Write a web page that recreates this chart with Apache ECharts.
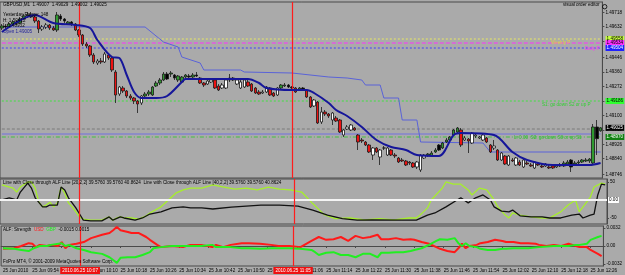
<!DOCTYPE html>
<html>
<head>
<meta charset="utf-8">
<script src="https://cdn.jsdelivr.net/npm/echarts@6/dist/echarts.min.js"></script>
<style>
html,body{margin:0;padding:0;background:#aaaaaa;}
#main{width:625px;height:275px;}
</style>
</head>
<body>
<div id="main"></div>
<script>
// GBPUSD M1, 25 Jun 2010 09:46 - 12:29
var startMinute = 9 * 60 + 46;
var barCount = 164;

var opens = [1.49624,1.49636,1.49630,1.49648,1.49660,1.49654,1.49678,1.49696,1.49702,1.49690,
1.49666,1.49618,1.49630,1.49642,1.49624,1.49612,1.49696,1.49678,1.49648,1.49660,
1.49648,1.49612,1.49582,1.49528,1.49516,1.49462,1.49414,1.49426,1.49420,1.49462,
1.49444,1.49360,1.49228,1.49264,1.49246,1.49216,1.49204,1.49186,1.49174,1.49216,
1.49228,1.49222,1.49276,1.49294,1.49312,1.49348,1.49348,1.49342,1.49312,1.49300,
1.49330,1.49336,1.49330,1.49342,1.49324,1.49294,1.49288,1.49300,1.49312,1.49276,
1.49264,1.49264,1.49312,1.49312,1.49288,1.49264,1.49270,1.49300,1.49288,1.49264,
1.49240,1.49234,1.49240,1.49264,1.49234,1.49222,1.49264,1.49276,1.49282,1.49270,
1.49264,1.49252,1.49264,1.49252,1.49210,1.49156,1.49180,1.49060,1.49120,1.49108,
1.49072,1.49084,1.49072,1.48982,1.49018,1.49012,1.49024,1.48982,1.48952,1.48940,
1.48922,1.48862,1.48904,1.48850,1.48904,1.48862,1.48892,1.48862,1.48844,1.48832,
1.48826,1.48820,1.48814,1.48790,1.48772,1.48844,1.48862,1.48856,1.48880,1.48922,
1.48904,1.48940,1.48952,1.48982,1.49000,1.49012,1.48952,1.48958,1.48934,1.48976,
1.48964,1.48952,1.48964,1.48922,1.48904,1.48892,1.48832,1.48856,1.48802,1.48832,
1.48802,1.48820,1.48790,1.48814,1.48802,1.48784,1.48808,1.48796,1.48796,1.48790,
1.48796,1.48790,1.48796,1.48796,1.48808,1.48832,1.48808,1.48814,1.48820,1.48826,
1.48826,1.48814,1.49030,1.49007];
var closes = [1.49636,1.49630,1.49648,1.49660,1.49654,1.49678,1.49696,1.49702,1.49690,1.49666,
1.49618,1.49630,1.49642,1.49624,1.49612,1.49702,1.49678,1.49666,1.49660,1.49648,
1.49612,1.49582,1.49528,1.49516,1.49462,1.49420,1.49426,1.49420,1.49468,1.49444,
1.49372,1.49222,1.49270,1.49246,1.49216,1.49204,1.49186,1.49168,1.49216,1.49228,
1.49240,1.49270,1.49294,1.49312,1.49348,1.49318,1.49354,1.49324,1.49336,1.49330,
1.49342,1.49330,1.49342,1.49336,1.49294,1.49282,1.49306,1.49312,1.49264,1.49252,
1.49282,1.49312,1.49324,1.49324,1.49312,1.49300,1.49312,1.49276,1.49246,1.49234,
1.49228,1.49240,1.49270,1.49222,1.49216,1.49264,1.49282,1.49282,1.49270,1.49264,
1.49240,1.49264,1.49252,1.49210,1.49150,1.49192,1.49054,1.49120,1.49108,1.49096,
1.49114,1.49066,1.49000,1.49012,1.49030,1.49042,1.49012,1.48940,1.48946,1.48922,
1.48880,1.48904,1.48880,1.48892,1.48904,1.48904,1.48862,1.48856,1.48820,1.48826,
1.48802,1.48814,1.48790,1.48820,1.48862,1.48862,1.48868,1.48874,1.48892,1.48892,
1.48934,1.48952,1.48970,1.49012,1.49024,1.48922,1.48964,1.48946,1.48994,1.48982,
1.48970,1.48982,1.48940,1.48880,1.48916,1.48832,1.48874,1.48808,1.48856,1.48826,
1.48844,1.48802,1.48832,1.48808,1.48796,1.48820,1.48802,1.48790,1.48808,1.48784,
1.48784,1.48796,1.48802,1.48814,1.48820,1.48790,1.48814,1.48820,1.48832,1.48832,
1.48838,1.49030,1.48960,1.49025];
var lows = [1.49612,1.49618,1.49624,1.49636,1.49642,1.49648,1.49672,1.49684,1.49684,1.49654,
1.49594,1.49606,1.49618,1.49612,1.49606,1.49600,1.49666,1.49654,1.49642,1.49636,
1.49606,1.49570,1.49516,1.49504,1.49450,1.49408,1.49402,1.49408,1.49414,1.49432,
1.49360,1.49174,1.49216,1.49234,1.49204,1.49192,1.49168,1.49114,1.49162,1.49210,
1.49216,1.49216,1.49270,1.49282,1.49306,1.49312,1.49330,1.49312,1.49300,1.49294,
1.49324,1.49324,1.49324,1.49330,1.49288,1.49270,1.49282,1.49294,1.49258,1.49246,
1.49258,1.49258,1.49300,1.49306,1.49282,1.49258,1.49264,1.49270,1.49240,1.49228,
1.49222,1.49228,1.49234,1.49216,1.49210,1.49216,1.49258,1.49270,1.49264,1.49258,
1.49234,1.49246,1.49246,1.49204,1.49144,1.49150,1.49048,1.49048,1.49096,1.49084,
1.49042,1.49060,1.48994,1.48970,1.49012,1.49006,1.49006,1.48892,1.48934,1.48916,
1.48874,1.48832,1.48874,1.48802,1.48892,1.48856,1.48856,1.48844,1.48814,1.48820,
1.48796,1.48802,1.48784,1.48778,1.48760,1.48838,1.48850,1.48850,1.48874,1.48886,
1.48898,1.48934,1.48946,1.48976,1.48994,1.48910,1.48946,1.48874,1.48928,1.48964,
1.48958,1.48946,1.48934,1.48874,1.48892,1.48826,1.48826,1.48802,1.48796,1.48820,
1.48796,1.48796,1.48784,1.48802,1.48790,1.48778,1.48796,1.48784,1.48790,1.48778,
1.48778,1.48784,1.48790,1.48790,1.48802,1.48760,1.48802,1.48808,1.48814,1.48820,
1.48814,1.48808,1.48862,1.49002];
var highs = [1.49648,1.49648,1.49660,1.49672,1.49672,1.49690,1.49708,1.49720,1.49720,1.49702,
1.49672,1.49642,1.49654,1.49648,1.49636,1.49720,1.49708,1.49684,1.49666,1.49666,
1.49654,1.49618,1.49588,1.49540,1.49522,1.49474,1.49438,1.49444,1.49480,1.49474,
1.49450,1.49372,1.49276,1.49276,1.49252,1.49228,1.49210,1.49192,1.49222,1.49240,
1.49252,1.49276,1.49306,1.49324,1.49360,1.49360,1.49366,1.49348,1.49342,1.49336,
1.49348,1.49348,1.49354,1.49360,1.49330,1.49300,1.49318,1.49324,1.49318,1.49288,
1.49294,1.49318,1.49348,1.49330,1.49318,1.49312,1.49318,1.49312,1.49294,1.49270,
1.49252,1.49252,1.49276,1.49270,1.49240,1.49270,1.49288,1.49294,1.49288,1.49276,
1.49270,1.49270,1.49270,1.49258,1.49216,1.49198,1.49186,1.49150,1.49132,1.49114,
1.49120,1.49096,1.49078,1.49018,1.49042,1.49048,1.49030,1.48988,1.48964,1.48946,
1.48928,1.48910,1.48910,1.48898,1.48916,1.48910,1.48898,1.48874,1.48850,1.48844,
1.48832,1.48826,1.48820,1.48826,1.48868,1.48868,1.48874,1.48886,1.48904,1.48928,
1.48940,1.48964,1.48976,1.49018,1.49030,1.49024,1.48976,1.48964,1.49000,1.48988,
1.48976,1.48988,1.48970,1.48928,1.48952,1.48898,1.48880,1.48862,1.48862,1.48844,
1.48850,1.48832,1.48838,1.48826,1.48814,1.48826,1.48820,1.48808,1.48814,1.48802,
1.48802,1.48808,1.48814,1.48826,1.48832,1.48838,1.48826,1.48832,1.48838,1.48844,
1.48844,1.49048,1.49072,1.49029];

// thick moving average, [bar, price]
var maLine = [[0,1.49600],[9,1.49702],[14,1.49654],[20,1.49642],[24,1.49624],[26,1.49552],[30,1.49450],
[32,1.49444],[34,1.49342],[36,1.49240],[38,1.49204],[42,1.49204],[45,1.49216],[49,1.49300],[50,1.49318],
[67,1.49318],[70,1.49294],[72,1.49264],[79,1.49252],[83,1.49252],[85,1.49234],[89,1.49174],[91,1.49132],
[94,1.49096],[98,1.49030],[102,1.48952],[106,1.48910],[110,1.48892],[113,1.48862],[119,1.48856],
[123,1.48982],[125,1.48994],[134,1.48982],[139,1.48880],[143,1.48832],[150,1.48802],[160,1.48802],[163,1.48814]];
// thin stepped line, [bar, price]
var stepLine = [[0,1.49630],[39,1.49630],[44,1.49540],[48,1.49510],[49,1.49450],[54,1.49414],[55,1.49372],
[65,1.49372],[66,1.49360],[79,1.49354],[89,1.49330],[94,1.49324],[98,1.49312],[99,1.49282],[103,1.49282],
[104,1.49204],[108,1.49204],[109,1.49072],[113,1.49072],[114,1.48940],[131,1.48934],[133,1.48880],[163,1.48880]];

// ALF lines panel, [bar, value]
var alfFast = [[0,42],[3,33],[4,22],[5,36],[7,50],[8,50],[9,33],[10,-6],[11,-19],[12,-14],[13,-6],[14,-19],
[15,-8],[16,36],[17,19],[18,-8],[19,-19],[20,-33],[21,-47],[22,-53],[24,-56],[27,-56],[29,-47],[30,-56],
[31,-50],[32,-47],[33,-50],[35,-50],[37,-53],[39,-44],[40,-36],[43,-19],[45,0],[47,19],[49,28],[51,33],
[54,33],[57,42],[60,36],[63,30],[66,33],[69,28],[72,36],[75,30],[78,28],[81,22],[84,-10],[87,-40],
[90,-52],[94,-50],[98,-55],[102,-52],[106,-55],[110,-50],[112,-50],[113,-42],[115,-22],[116,0],[119,33],
[120,50],[122,44],[124,44],[126,28],[127,14],[129,33],[131,28],[133,0],[134,-19],[136,-42],[137,-50],
[138,-36],[140,-42],[143,-47],[146,-50],[148,-50],[151,-33],[153,-14],[155,0],[156,-33],[158,-6],[159,8],
[160,36],[162,47],[163,44]];
var alfSlow = [[0,0],[2,6],[4,0],[5,22],[7,47],[8,33],[9,6],[11,-19],[12,-19],[13,-14],[15,-14],[16,36],
[17,28],[18,6],[19,-8],[20,-22],[21,-39],[22,-56],[24,-58],[27,-58],[29,-47],[30,-56],[32,-47],[33,-50],
[36,-56],[38,-50],[40,-39],[43,-33],[46,-22],[49,-19],[51,-22],[54,-22],[57,-25],[62,-20],[66,-17],
[70,-14],[75,-14],[80,-17],[84,-28],[88,-42],[92,-52],[96,-56],[100,-55],[108,-56],[112,-56],[115,-42],
[117,-36],[120,-19],[123,0],[124,6],[126,-8],[128,6],[130,14],[132,0],[133,-19],[135,-31],[137,-33],
[138,-28],[140,-44],[143,-47],[146,-47],[148,-50],[151,-50],[154,-42],[156,-39],[157,-50],[159,-42],
[160,-39],[161,14],[162,44],[163,42]];

// ALF strength panel, [bar, value]
var strengthUsd = [[0,-0.0005],[3,-0.0004],[5,0],[7,0.0005],[8,0.0004],[9,-0.0002],[10,0.0002],[12,0],
[13,0.0002],[15,0],[16,0.0007],[17,-0.0004],[18,0.0002],[20,0.0004],[22,0.0007],[24,0.0014],[27,0.0020],
[29,0.0023],[30,0.0028],[31,0.0034],[32,0.0028],[34,0.0025],[35,0.0023],[37,0.0023],[39,0.0016],
[40,0.0011],[42,0.0002],[43,-0.0002],[46,0],[49,-0.0002],[51,0.0002],[54,0.0002],[57,-0.0002],
[58,0.0002],[60,-0.0002],[62,0.0002],[65,0.0005],[67,0.0005],[70,0.0004],[73,0.0002],[75,0],[78,0],
[81,-0.0002],[84,0.0009],[86,0.0016],[88,0.0011],[90,0.0012],[92,0.0016],[94,0.0009],[96,0.0018],
[98,0.0014],[100,0.0016],[102,0.0020],[103,0.0012],[105,0.0012],[107,0.0014],[109,0.0011],[111,0.0012],
[112,0.0011],[114,0.0007],[116,0.0004],[118,-0.0002],[119,-0.0005],[121,-0.0009],[123,-0.0011],
[124,-0.0004],[125,0.0004],[126,-0.0004],[127,0],[129,0.0002],[130,0.0005],[132,0.0007],[134,0.0011],
[136,0.0009],[137,0.0007],[139,0.0007],[141,0.0005],[143,0.0005],[145,0.0004],[146,0.0002],[148,0],
[150,0.0002],[152,0],[154,0.0004],[156,0],[157,-0.0002],[159,-0.0002],[160,-0.0007],[162,-0.0014],[163,-0.0018]];
var strengthGbp = [[0,-0.0004],[3,-0.0005],[5,-0.0007],[7,-0.0009],[8,-0.0005],[10,0],[12,0],[13,0.0002],
[16,0.0005],[17,0],[18,0.0002],[20,-0.0004],[22,-0.0007],[24,-0.0011],[27,-0.0014],[29,-0.0020],
[30,-0.0025],[31,-0.0030],[32,-0.0021],[34,-0.0020],[36,-0.0020],[38,-0.0016],[40,-0.0011],[41,-0.0004],
[43,-0.0002],[46,0],[49,0],[51,0],[54,0],[57,0.0002],[58,-0.0002],[62,-0.0002],[65,-0.0004],[67,-0.0004],
[70,-0.0005],[73,-0.0004],[75,-0.0004],[78,-0.0004],[81,-0.0005],[84,-0.0007],[85,-0.0011],[86,-0.0016],
[88,-0.0012],[90,-0.0011],[92,-0.0016],[94,-0.0016],[96,-0.0020],[98,-0.0014],[100,-0.0014],[102,-0.0020],
[103,-0.0012],[105,-0.0012],[107,-0.0011],[109,-0.0011],[111,-0.0009],[112,-0.0007],[114,-0.0004],
[116,0.0002],[118,0.0009],[119,0.0012],[121,0.0011],[123,0.0014],[124,0.0005],[125,0],[126,0.0005],
[127,0],[129,-0.0002],[130,-0.0005],[132,-0.0007],[134,-0.0007],[136,-0.0005],[137,-0.0005],[139,-0.0004],
[143,-0.0004],[146,-0.0002],[150,0],[154,0],[156,0.0002],[157,0.0002],[159,0.0004],[160,0.0011],
[162,0.0016],[163,0.0018]];

// horizontal levels on the price chart
var levelPrices = [1.49558, 1.49534, 1.49504, 1.49186, 1.49018, 1.48988, 1.48970];
var lastPrice = 1.49025;
var priceTicks = [1.49718,1.49632,1.49546,1.49446,1.49360,1.49272,1.49186,1.49100,1.49012,1.48926,1.48840,1.48746];
var alfTicks = [50, 0, -50];
var strengthTicks = [0.0032, 0, -0.0032];
var separatorBars = [21, 79];

var times = [];
for (var i = 0; i < barCount; i++) {
  var m = startMinute + i;
  var hh = Math.floor(m / 60), mm = m % 60;
  times.push((hh < 10 ? '0' : '') + hh + ':' + (mm < 10 ? '0' : '') + mm);
}

var chart = echarts.init(document.getElementById('main'));
var FONT = 'Liberation Sans';
var FS = 4.6;
var BG = '#aaaaaa';
var EDGE = '#4a4a4a';

//MA value at a bar, only to pick candle colours (above MA: green/black, below: white/red)
var maAt = function(i){
  for (var k = 1; k < maLine.length; k++) {
    if (i <= maLine[k][0]) {
      var a = maLine[k-1], b = maLine[k];
      return a[1] + (b[1] - a[1]) * (i - a[0]) / (b[0] - a[0]);
    }
  }
  return maLine[maLine.length-1][1];
};

var candles = [];
for (var i = 0; i < barCount; i++) {
  var up = closes[i] >= opens[i];
  var above = (opens[i] + closes[i]) / 2 > maAt(i);
  var fill = above ? (up ? '#2f9a2f' : '#000000') : (up ? '#ffffff' : '#ee1111');
  candles.push({
    value: [opens[i], closes[i], lows[i], highs[i]],
    itemStyle: {color: fill, color0: fill, borderColor: '#1a1a1a', borderColor0: '#1a1a1a'}
  });
}

var sepLines = function(withLabel){
  return {
    silent: true, symbol: 'none', animation: false,
    lineStyle: {color: '#ff1c1c', width: 1.2, type: 'solid'},
    label: withLabel ? {
      show: true, position: 'start', distance: 1,
      formatter: function(p){ return '2010.06.25 ' + times[p.value]; },
      color: '#ffffff', backgroundColor: '#ee1111', fontSize: FS, fontFamily: FONT, padding: [1, 2]
    } : {show: false},
    data: separatorBars.map(function(b){ return {xAxis: b}; })
  };
};

var levelStyles = [
  {color: '#e8e860', type: [2, 2], box: '#c8ff40', txt: '#000'},
  {color: '#ff30ff', type: [4, 2], box: '#ff30ff', txt: '#000'},
  {color: '#4040ff', type: [2, 2], box: '#2020ff', txt: '#fff'},
  {color: '#40e040', type: [2, 2], box: '#30ff30', txt: '#000'},
  {color: '#7a7a7a', type: [3, 2], box: null},
  {color: '#7070e0', type: 'solid', box: null},
  {color: '#40c040', type: [4, 2, 1, 2], box: '#108010', txt: '#fff'}
];

//每条水平线一个系列, 右侧价格框用endLabel
var levelSeries = levelPrices.map(function(p, k){
  var s = levelStyles[k];
  return {
    type: 'line', xAxisIndex: 0, yAxisIndex: 0, symbol: 'none', silent: true, z: 2,
    data: [[0, p], [barCount - 1, p]],
    lineStyle: {color: s.color, type: s.type, width: 1},
    endLabel: s.box ? {show: true, distance: 5, formatter: p.toFixed(5),
      backgroundColor: s.box, color: s.txt, fontSize: FS, fontFamily: FONT, padding: [0.5, 1]} : {show: false}
  };
});
levelSeries.push({
  type: 'line', xAxisIndex: 0, yAxisIndex: 0, symbol: 'none', silent: true, z: 6,
  data: [[0, lastPrice], [barCount - 1, lastPrice]],
  lineStyle: {opacity: 0},
  endLabel: {show: true, distance: 5, formatter: lastPrice.toFixed(5),
    backgroundColor: '#000000', color: '#ffffff', fontSize: FS, fontFamily: FONT, padding: [0.5, 1]}
});

var gridsCfg = [{top: 2, height: 176}, {top: 179, height: 45}, {top: 226, height: 40}];

var xAxes = gridsCfg.map(function(g, k){
  var last = k === 2;
  return {
    type: 'category', gridIndex: k, data: times, boundaryGap: true,
    axisLine: {show: last, lineStyle: {color: EDGE}},
    axisTick: {show: last, alignWithLabel: true, length: 2, lineStyle: {color: EDGE},
      interval: function(i){ return i % 8 === 0; }},
    axisLabel: {show: last, interval: function(i){ return i % 8 === 0; }, align: 'left', margin: 2,
      color: '#000', fontSize: FS, fontFamily: FONT,
      formatter: function(v, i){ return i === 0 ? '25 Jun 2010' : '25 Jun ' + v; }},
    splitLine: {show: false}
  };
});

var axisLab = function(custom, fmt){
  return {show: true, customValues: custom, color: '#000', fontSize: FS, fontFamily: FONT, margin: 3, formatter: fmt};
};

var yAxes = [
  {type: 'value', gridIndex: 0, position: 'right', min: 1.48724, max: 1.49780, scale: true,
    axisLine: {show: true, lineStyle: {color: EDGE}}, splitLine: {show: false},
    axisTick: {show: true, customValues: priceTicks, length: 2, lineStyle: {color: EDGE}},
    axisLabel: axisLab(priceTicks, function(v){ return v.toFixed(5); })},
  {type: 'value', gridIndex: 1, position: 'right', min: -66.7, max: 58.3,
    axisLine: {show: true, lineStyle: {color: EDGE}}, splitLine: {show: false},
    axisTick: {show: true, customValues: alfTicks, length: 2, lineStyle: {color: EDGE}},
    axisLabel: axisLab(alfTicks, function(v){ return String(v); })},
  {type: 'value', gridIndex: 2, position: 'right', min: -0.003556, max: 0.003556,
    axisLine: {show: true, lineStyle: {color: EDGE}}, splitLine: {show: false},
    axisTick: {show: true, customValues: strengthTicks, length: 2, lineStyle: {color: EDGE}},
    axisLabel: axisLab(strengthTicks, function(v){ return v === 0 ? '0.00' : v.toFixed(4); })}
];

var txt = function(x, y, s, color){
  return {type: 'text', left: x, top: y, silent: true, z: 10,
    style: {text: s, fill: color || '#000', fontSize: FS, fontFamily: FONT}};
};

var option = {
  backgroundColor: BG,
  animation: false,
  grid: gridsCfg.map(function(g){
    return {left: -2.3, width: 609.3, top: g.top, height: g.height, show: true,
      borderColor: EDGE, borderWidth: 1, backgroundColor: 'transparent'};
  }),
  xAxis: xAxes,
  yAxis: yAxes,
  graphic: [
    txt(3, 2, 'GBPUSD,M1  1.49007  1.49029  1.49002  1.49025'),
    txt(3, 12, 'Yesterday Range: 148'),
    txt(3, 18, 'H: 1.50412'),
    txt(3, 23, 'L: 1.48932'),
    txt(3, 29, 'Open 1.49005', '#1a1a9a'),
    txt(563, 2, 'visual order editor'),
    {type: 'circle', left: 600, top: 2, z: 10, shape: {r: 2.2}, style: {fill: 'none', stroke: '#000', lineWidth: 0.8}},
    txt(551, 40, 'Weekly P', '#e8d040'),
    txt(585, 46, 'Daily P', '#ff30ff'),
    txt(542, 102, 'S1: go down S2 or up P', '#30d030'),
    txt(514, 135, 'L: 0.00  S2: go down S3 or up S1', '#30c030'),
    txt(3, 180, 'Line with Close through ALF Line [20,2,2] 39.5760 39.5760 40.8624  Line with Close through ALF Line [40,2,2] 39.5760 39.5760 40.8624'),
    {type: 'text', left: 3, top: 227, silent: true, z: 10,
      style: {text: 'ALF: Strength  {r|USD}  {g|GBP}  -0.0015 0.0015', fill: '#000', fontSize: FS, fontFamily: FONT,
        rich: {r: {fill: '#ff1a1a', fontSize: FS, fontFamily: FONT}, g: {fill: '#22ee22', fontSize: FS, fontFamily: FONT}}}},
    txt(3, 259, 'FxPro MT4, \u00a9 2001-2009 MetaQuotes Software Corp.')
  ],
  series: levelSeries.concat([
    {type: 'line', xAxisIndex: 0, yAxisIndex: 0, data: stepLine, symbol: 'none', z: 2,
      lineStyle: {color: '#5a63d8', width: 1}},
    {type: 'candlestick', xAxisIndex: 0, yAxisIndex: 0, data: candles, barWidth: 3, z: 3,
      itemStyle: {borderWidth: 0.8}},
    {type: 'line', xAxisIndex: 0, yAxisIndex: 0, data: maLine, symbol: 'none', smooth: 0.3, z: 5,
      lineStyle: {color: '#16169a', width: 2}, markLine: sepLines(false)},
    {type: 'line', xAxisIndex: 1, yAxisIndex: 1, data: alfFast, symbol: 'none',
      lineStyle: {color: '#a6f02a', width: 1.3},
      markLine: {silent: true, symbol: 'none', data: [{yAxis: 0, lineStyle: {color: '#f4f4f4', width: 2, type: 'solid'},
        label: {show: true, position: 'end', distance: 1, formatter: '0.00', backgroundColor: '#ffffff',
          color: '#000', fontSize: FS, fontFamily: FONT, padding: [0.5, 1]}}]}},
    {type: 'line', xAxisIndex: 1, yAxisIndex: 1, data: alfSlow, symbol: 'none',
      lineStyle: {color: '#111111', width: 1.3}, markLine: sepLines(false)},
    {type: 'line', xAxisIndex: 2, yAxisIndex: 2, data: strengthUsd, symbol: 'none',
      lineStyle: {color: '#ff1a1a', width: 2}, markLine: sepLines(true)},
    {type: 'line', xAxisIndex: 2, yAxisIndex: 2, data: strengthGbp, symbol: 'none',
      lineStyle: {color: '#22ee22', width: 2}}
  ])
};
chart.setOption(option);
</script>
</body>
</html>
